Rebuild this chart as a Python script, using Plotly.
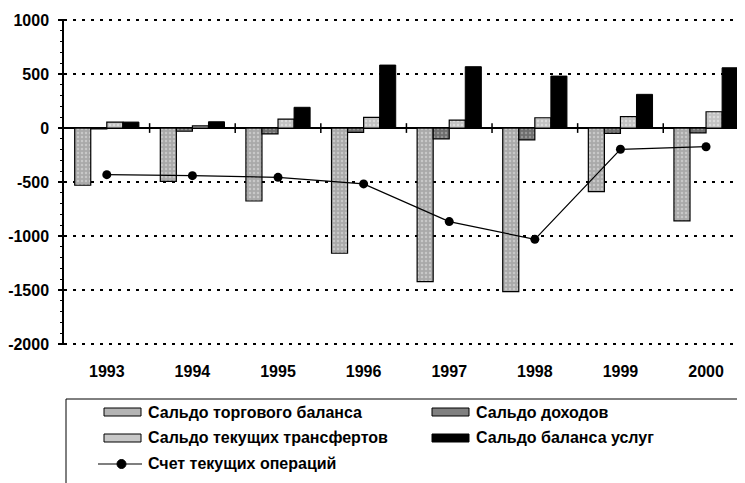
import plotly.graph_objects as go

# ---- data ----
years = ["1993", "1994", "1995", "1996", "1997", "1998", "1999", "2000"]
trade_balance = [-530, -495, -676, -1160, -1423, -1516, -590, -861]
income_balance = [-8, -30, -55, -40, -100, -110, -50, -45]
transfers_balance = [55, 20, 83, 99, 74, 95, 105, 151]
services_balance = [55, 58, 192, 583, 568, 481, 312, 558]
current_account = [-432, -441, -457, -518, -867, -1031, -197, -173]

series_names = [
    "Сальдо торгового баланса",
    "Сальдо доходов",
    "Сальдо текущих трансфертов",
    "Сальдо баланса услуг",
    "Счет текущих операций",
]
ytick_vals = [1000, 500, 0, -500, -1000, -1500, -2000]
ytick_text = ["1000", "500", "0", "-500", "-1000", "-1500", "-2000"]

# ---- styling ----
BODY = 8  # default page body margin of the html page
W, H = 745 - BODY, 483 - BODY
PLOT_L, PLOT_T, PLOT_B = 64, 19, 345     # page pixel positions of the plot area
ML, MT = PLOT_L - BODY, PLOT_T - BODY
MR = 0
PW = W - ML - MR
PH = PLOT_B - PLOT_T
MB = H - MT - PH
FONT = "Liberation Sans, Arial, sans-serif"


def px_x(x):
    return (x - PLOT_L) / PW


def px_y(y):
    return (PLOT_B - y) / PH


styles = [
    dict(bg="#a9a9a9", fg="#e6e6e6", sol=0.3),
    dict(bg="#6e6e6e", fg="#bdbdbd", sol=0.3),
    dict(bg="#c2c2c2", fg="#f4f4f4", sol=0.3),
]

fig = go.Figure()
for vals, name, st in zip([trade_balance, income_balance, transfers_balance],
                          series_names[:3], styles):
    fig.add_trace(go.Bar(
        x=years, y=vals, name=name, showlegend=False,
        marker=dict(color=st["bg"], line=dict(color="black", width=1.2),
                    pattern=dict(shape=".", bgcolor=st["bg"], fgcolor=st["fg"],
                                 size=4, solidity=st["sol"])),
    ))
fig.add_trace(go.Bar(
    x=years, y=services_balance, name=series_names[3], showlegend=False,
    marker=dict(color="black", line=dict(color="black", width=1)),
))
fig.add_trace(go.Scatter(
    x=years, y=current_account, name=series_names[4], showlegend=False,
    mode="lines+markers", line=dict(color="black", width=1.2),
    marker=dict(color="black", size=9),
))

# category boundary ticks on the zero line
shapes = []
for i in range(len(years) - 1):
    shapes.append(dict(type="line", xref="x", yref="y", x0=i + 0.5, x1=i + 0.5,
                       y0=-45, y1=45, line=dict(color="black", width=1.5)))

# custom legend box
shapes.append(dict(type="rect", xref="paper", yref="paper",
                   x0=px_x(66), x1=px_x(800), y0=px_y(399), y1=px_y(520),
                   line=dict(color="black", width=1), fillcolor="rgba(0,0,0,0)"))

legend_items = [
    (0, 0, "#b4b4b4"),
    (1, 0, "#808080"),
    (0, 1, "#c8c8c8"),
    (1, 1, "black"),
]
col_sw = [(104, 141), (432, 469)]
col_tx = [146, 474]
row_y = [412, 438, 464]
annotations = []
for k, (c, r, col) in enumerate(legend_items):
    x0, x1 = col_sw[c]
    y = row_y[r]
    shapes.append(dict(type="rect", xref="paper", yref="paper",
                       x0=px_x(x0), x1=px_x(x1), y0=px_y(y - 4), y1=px_y(y + 4),
                       fillcolor=col, line=dict(color="black", width=1)))
    annotations.append(dict(xref="paper", yref="paper", x=px_x(col_tx[c]), y=px_y(y),
                            xanchor="left", yanchor="middle", showarrow=False,
                            text=series_names[k],
                            font=dict(family=FONT, size=16, color="black", weight="bold")))
# line legend
shapes.append(dict(type="line", xref="paper", yref="paper",
                   x0=px_x(98), x1=px_x(142), y0=px_y(row_y[2]), y1=px_y(row_y[2]),
                   line=dict(color="black", width=1.2)))
shapes.append(dict(type="circle", xref="paper", yref="paper",
                   x0=px_x(117), x1=px_x(126), y0=px_y(row_y[2] - 4.5), y1=px_y(row_y[2] + 4.5),
                   fillcolor="black", line=dict(color="black", width=1)))
annotations.append(dict(xref="paper", yref="paper", x=px_x(col_tx[0]), y=px_y(row_y[2]),
                        xanchor="left", yanchor="middle", showarrow=False,
                        text=series_names[4],
                        font=dict(family=FONT, size=16, color="black", weight="bold")))

fig.update_layout(
    width=W, height=H, autosize=False,
    margin=dict(l=ML, r=MR, t=MT, b=MB, pad=0),
    paper_bgcolor="white", plot_bgcolor="white",
    barmode="group", bargap=0.25, bargroupgap=0,
    showlegend=False,
    shapes=shapes, annotations=annotations,
    font=dict(family=FONT, size=16, color="black"),
)
fig.update_xaxes(
    type="category", range=[-0.5, 7.455],
    showgrid=False, showline=False, zeroline=False, ticks="",
    tickfont=dict(family=FONT, size=16, color="black", weight="bold"),
    ticklabelstandoff=15,
)
fig.update_yaxes(
    range=[-2010, 1010], tickvals=ytick_vals, ticktext=ytick_text,
    showline=True, linecolor="black", linewidth=1.5,
    ticks="outside", ticklen=4, tickwidth=1.5, tickcolor="black",
    minor=dict(dtick=100, ticks="outside", ticklen=2, tickcolor="black", tickwidth=1, showgrid=False),
    showgrid=True, gridcolor="black", gridwidth=1.5, griddash="3px,6px",
    zeroline=True, zerolinecolor="black", zerolinewidth=2,
    tickfont=dict(family=FONT, size=16, color="black", weight="bold"),
    ticklabelstandoff=6,
)

fig.write_html("out.html")
